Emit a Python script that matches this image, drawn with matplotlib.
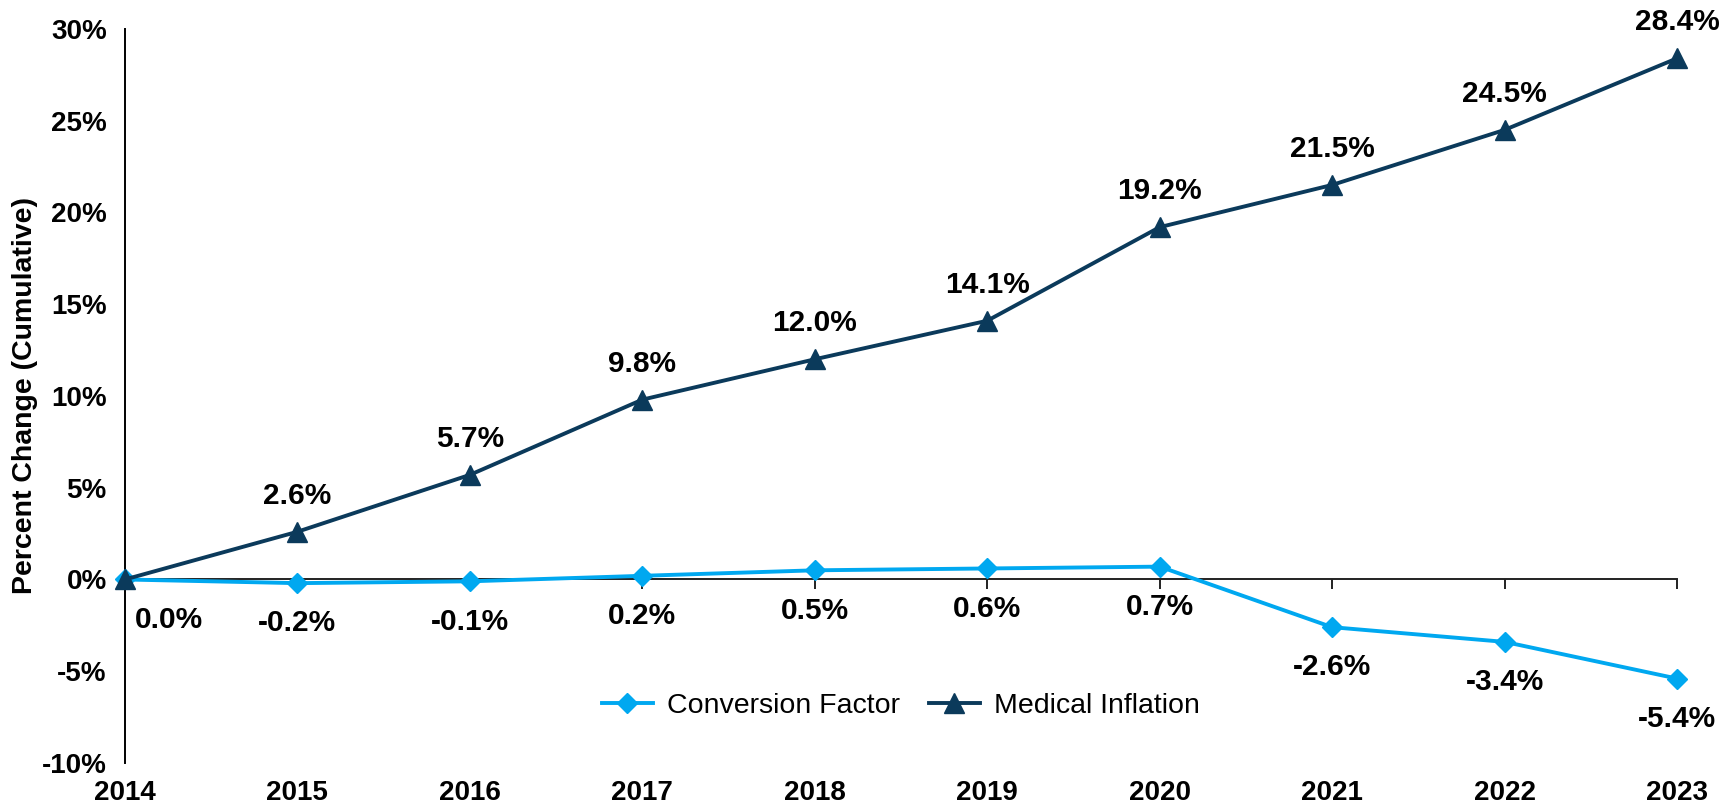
import matplotlib.pyplot as plt
import matplotlib.ticker as mticker

years = [2014, 2015, 2016, 2017, 2018, 2019, 2020, 2021, 2022, 2023]
conversion_factor = [0.0, -0.2, -0.1, 0.2, 0.5, 0.6, 0.7, -2.6, -3.4, -5.4]
medical_inflation = [0.0, 2.6, 5.7, 9.8, 12.0, 14.1, 19.2, 21.5, 24.5, 28.4]
y_ticks = [-10, -5, 0, 5, 10, 15, 20, 25, 30]

cf_color = "#00A8F0"
mi_color = "#0B3A5B"

plt.rcParams["font.family"] = ["Liberation Sans", "DejaVu Sans"]

fig = plt.figure(figsize=(17.35, 8.05), dpi=100)
ax = fig.add_axes([0.072, 0.0522, 0.8946, 0.9118])

ax.plot(years, conversion_factor, color=cf_color, lw=2.8, marker="D", ms=10,
        label="Conversion Factor", zorder=3, clip_on=False)
ax.plot(years, medical_inflation, color=mi_color, lw=2.8, marker="^", ms=14,
        label="Medical Inflation", zorder=4, clip_on=False)

ax.set_xlim(2014, 2023)
ax.set_ylim(-10, 30)

# x axis line through zero with downward ticks, year labels at bottom
ax.spines["bottom"].set_position(("data", 0))
ax.spines["bottom"].set_color("#222222")
ax.spines["bottom"].set_linewidth(1.4)
ax.spines["bottom"].set_zorder(2)
ax.set_xticks(years)
ax.tick_params(axis="x", length=7, width=1.4, color="#222222", labelbottom=False)

sec = ax.secondary_xaxis("bottom")
sec.spines["bottom"].set_visible(False)
sec.set_xticks(years)
sec.set_xticklabels([str(y) for y in years], fontsize=20, fontweight="bold")
sec.tick_params(axis="x", length=0, pad=12)

ax.spines["top"].set_visible(False)
ax.spines["right"].set_visible(False)
ax.spines["left"].set_linewidth(1.4)
ax.set_yticks(y_ticks)
ax.yaxis.set_major_formatter(mticker.FuncFormatter(lambda v, p: f"{v:.0f}%"))
ax.tick_params(axis="y", length=0, pad=13, labelsize=20)
for lbl in ax.get_yticklabels():
    lbl.set_fontweight("bold")

ax.set_ylabel("Percent Change (Cumulative)", fontsize=20.5, fontweight="bold", labelpad=3)

# data labels
for i, (x, v) in enumerate(zip(years, medical_inflation)):
    if i == 0:
        continue
    ax.annotate(f"{v:.1f}%", (x, v), xytext=(0, 26), textcoords="offset points",
                ha="center", va="center", fontsize=21.5, fontweight="bold")
for i, (x, v) in enumerate(zip(years, conversion_factor)):
    dx = 32 if i == 0 else 0
    ax.annotate(f"{v:.1f}%", (x, v), xytext=(dx, -29), textcoords="offset points",
                ha="center", va="center", fontsize=21.5, fontweight="bold")

ax.legend(loc="center", bbox_to_anchor=(0.5, 0.078), ncol=2, frameon=False,
          fontsize=20.5, handlelength=1.8, columnspacing=1.0, handletextpad=0.5)

fig.savefig("out.png", dpi=100)
